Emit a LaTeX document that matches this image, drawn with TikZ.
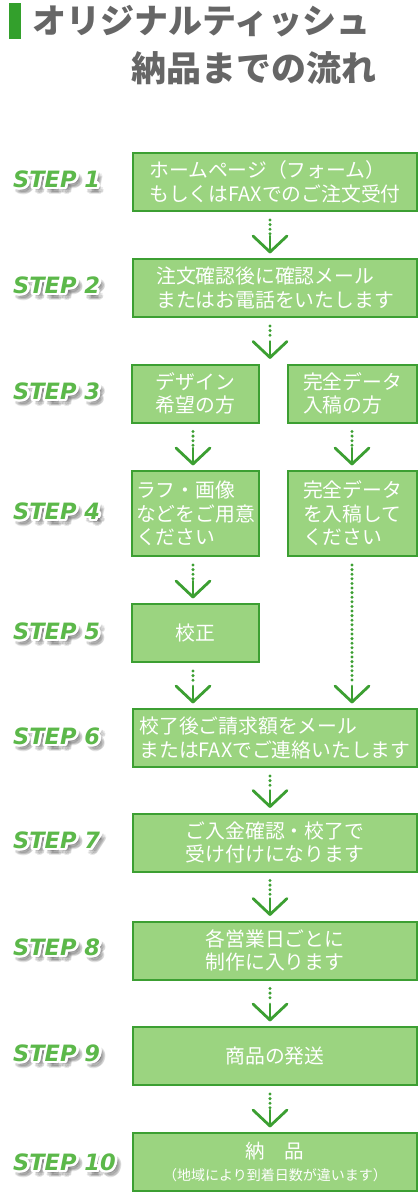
\documentclass[tikz,border=0pt]{standalone}
\usepackage{fontspec}
\usetikzlibrary{calc}
\newfontfamily\cjk{Noto Sans CJK JP}
\newfontfamily\stepfont{DejaVu Sans}
\definecolor{boxfill}{HTML}{9BD480}
\definecolor{boxline}{HTML}{3C9F32}
\definecolor{arrcol}{HTML}{3C9F32}
\definecolor{stepgreen}{HTML}{5CB84A}
\definecolor{titlegray}{HTML}{666666}
\definecolor{bargreen}{HTML}{33A02C}
\tikzset{
  flowbox/.style={draw=boxline, fill=boxfill, line width=2pt, inner sep=0pt, text=white,
    font=\cjk\fontsize{19.8}{23.5}\selectfont, align=left, minimum height=58pt},
  fullbox/.style={flowbox, minimum width=284pt},
  halfbox/.style={flowbox, minimum width=127pt},
  dotline/.style={draw=arrcol, line width=3.3pt, line cap=round, dash pattern=on 0pt off 4.6pt},
  arrline/.style={draw=arrcol, line width=2.8pt, line cap=round, line join=round},
  steptext/.style={font=\stepfont\bfseries\itshape\fontsize{22.5}{24}\selectfont, anchor=west, inner sep=0pt},
  titletext/.style={font=\cjk\bfseries, text=titlegray, anchor=west, inner sep=0pt},
}
\newcommand\flowarrow[4]{%
  \coordinate (#4s) at ($(#1.south -| #3)+(0,8)$);
  \coordinate (#4t) at ($(#2.north -| #3)+(0,-6)$);
  \draw[dotline] (#4s) -- ($(#4t)+(0,-18)$);
  \draw[arrline] ($(#4t)+(-17,-16)$) -- (#4t) -- ($(#4t)+(17,-16)$);
  \draw[arrline] ($(#4t)+(0,-16)$) -- (#4t);
}
\newcommand\steplab[3]{%
  \foreach \a [count=\i] in {0,45,...,315} {
    \node[steptext, text=black, opacity=0.09] (#1s\i) at ($(13,#2)+(4,5)+(\a:2.5)$) {#3};
  }
  \foreach \a [count=\i] in {0,22.5,...,337.5} {
    \node[steptext, text=white] (#1w\i) at ($(13,#2)+(\a:2.6)$) {#3};
  }
  \node[steptext, text=stepgreen] (#1) at (13,#2) {#3};
}
\begin{document}
\begin{tikzpicture}[x=1pt,y=-1pt]
\path[fill=white, use as bounding box] (0,0) rectangle (418,1196);
% title
\node[fill=bargreen, minimum width=12pt, minimum height=36pt, inner sep=0pt] (bar) at (15,21) {};
\node[titletext, font=\cjk\bfseries\fontsize{34}{34}\selectfont] (t1) at (32,21) {オリジナルティッシュ};
\node[titletext, font=\cjk\bfseries\fontsize{35}{35}\selectfont] (t2) at (131,68) {納品までの流れ};
% x positions of arrows
\coordinate (axm) at (270,0);
\coordinate (axl) at (193,0);
\coordinate (axr) at (352,0);
% boxes
\node[fullbox] (b1) at (275,182) {ホームページ（フォーム）\\もしくはFAXでのご注文受付};
\node[fullbox] (b2) at (275,288) {注文確認後に確認メール\\またはお電話をいたします};
\node[halfbox] (b3l) at (195.5,393.5) {デザイン\\希望の方};
\node[halfbox, minimum width=129pt] (b3r) at (352.5,393.5) {完全データ\\入稿の方};
\node[halfbox, minimum height=85pt] (b4l) at (195.5,513.5) {ラフ・画像\\などをご用意\\ください};
\node[halfbox, minimum width=129pt, minimum height=85pt] (b4r) at (352.5,513.5) {完全データ\\を入稿して\\ください};
\node[halfbox] (b5) at (195.5,633) {校正};
\node[fullbox] (b6) at (275,738) {校了後ご請求額をメール\\またはFAXでご連絡いたします};
\node[fullbox] (b7) at (275,842.5) {ご入金確認・校了で\\受け付けになります};
\node[fullbox] (b8) at (275,950.5) {各営業日ごとに\\制作に入ります};
\node[fullbox] (b9) at (275,1056) {商品の発送};
\node[fullbox, align=center, font=\cjk\fontsize{19.5}{21.5}\selectfont] (b10) at (275,1162)
  {納　品\\{\fontsize{14}{21.5}\selectfont （地域により到着日数が違います）}};
% arrows
\flowarrow{b1}{b2}{axm}{a1}
\flowarrow{b2}{b3l}{axm}{a2}
\flowarrow{b3l}{b4l}{axl}{a3}
\flowarrow{b3r}{b4r}{axr}{a4}
\flowarrow{b4l}{b5}{axl}{a5}
\flowarrow{b4r}{b6}{axr}{a6}
\flowarrow{b5}{b6}{axl}{a7}
\flowarrow{b6}{b7}{axm}{a8}
\flowarrow{b7}{b8}{axm}{a9}
\flowarrow{b8}{b9}{axm}{a10}
\flowarrow{b9}{b10}{axm}{a11}
% step labels
\steplab{s1}{179}{STEP 1}
\steplab{s2}{285}{STEP 2}
\steplab{s3}{391}{STEP 3}
\steplab{s4}{511}{STEP 4}
\steplab{s5}{631}{STEP 5}
\steplab{s6}{736}{STEP 6}
\steplab{s7}{840}{STEP 7}
\steplab{s8}{947}{STEP 8}
\steplab{s9}{1053}{STEP 9}
\steplab{s10}{1162}{STEP 10}
\end{tikzpicture}
\end{document}
